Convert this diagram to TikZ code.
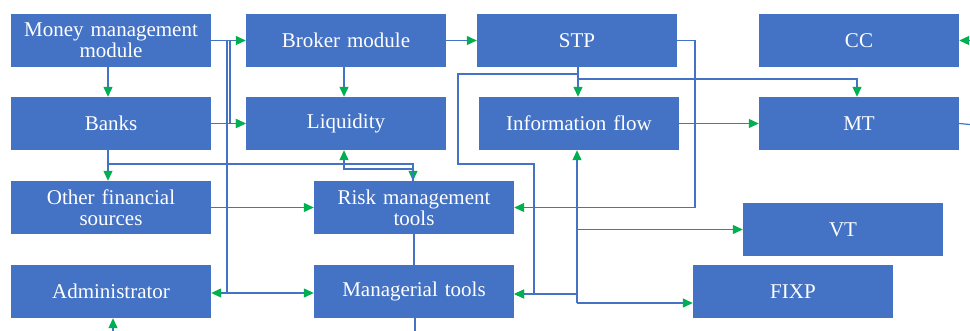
\documentclass[tikz,border=0pt]{standalone}
\usepackage{fontspec}
\setmainfont{Liberation Serif}
\usetikzlibrary{arrows.meta}
\definecolor{boxblue}{HTML}{4472C4}
\definecolor{linkblue}{HTML}{4472C4}
\definecolor{arrgreen}{HTML}{00B050}
\tikzset{
  blk/.style={draw=none, fill=boxblue, text=white, minimum width=200pt, minimum height=53pt,
    inner sep=0pt, align=center, text width=196pt, font=\fontsize{21}{21}\selectfont},
  lnk/.style={draw=linkblue, line width=1.2pt},
  arr/.style={lnk, -{Triangle[length=10pt,width=9pt,color=arrgreen,fill=arrgreen]}},
}
\begin{document}
\begin{tikzpicture}[x=1pt,y=-1pt]
\useasboundingbox (0,0) rectangle (970,331);
% nodes
\node[blk] (mm) at (111,40.5) {Money management\\module};
\node[blk] (banks) at (111,123.5) {Banks};
\node[blk] (ofs) at (111,207.5) {Other financial\\sources};
\node[blk] (admin) at (111,291.5) {Administrator};
\node[blk] (broker) at (346,40.5) {Broker module};
\node[blk] (liq) at (346,123.5) {Liquidity};
\node[blk] (risk) at (414,207.5) {Risk management\\tools};
\node[blk] (manag) at (414,291.5) {Managerial tools};
\node[blk] (stp) at (577,40.5) {STP};
\node[blk] (info) at (579,123.5) {Information flow};
\node[blk] (cc) at (859,40.5) {CC};
\node[blk] (mt) at (859,123.5) {MT};
\node[blk] (vt) at (843,229.5) {VT};
\node[blk] (fixp) at (793,291.5) {FIXP};
% free ends and junctions
\coordinate (mbot) at (415,331);
\coordinate (abot) at (113,331);
\coordinate (mtout) at (970,124.5);
\coordinate (ccin) at (970,40.5);
\coordinate (jadm) at (227,293);
\coordinate (jinfo) at (577,303);
\coordinate (jman) at (577,294);
% connectors
\draw[arr] (mm.east) -- (broker.west);
\draw[arr] ([xshift=-3pt]mm.south) -- ([xshift=-3pt]banks.north);
\draw[arr] (banks.east) -- (liq.west);
\draw[arr] (mm.east) -- (230,40.5) |- (liq.west);
\draw[lnk] (mm.east) -| (jadm);
\draw[arr] (jadm) -- (admin.east |- jadm);
\draw[arr] (jadm) -- (manag.west |- jadm);
\draw[arr] ([xshift=-3pt]banks.south) -- ([xshift=-3pt]ofs.north);
\draw[arr] ([xshift=-3pt]banks.south) -- (108,164) -| ([xshift=-1pt]risk.north);
\draw[arr] ([xshift=-1pt]risk.north) -- (413,169) -| ([xshift=-2pt]liq.south);
\draw[arr] ([xshift=-2pt]broker.south) -- ([xshift=-2pt]liq.north);
\draw[arr] (broker.east) -- (stp.west);
\draw[arr] (ofs.east) -- (risk.west);
\draw[lnk] (risk.south) -- (manag.north);
\draw[lnk] ([xshift=1pt]manag.south) -- (mbot);
\draw[arr] (abot) -- (abot |- admin.south);
\draw[arr] (stp.east) -- (695,40.5) |- (risk.east);
\draw[arr] ([xshift=1pt]stp.south) -- ([xshift=-1pt]info.north);
\draw[arr] ([xshift=1pt]stp.south) -- (578,79) -| ([xshift=-2pt]mt.north);
\draw[arr] ([xshift=1pt]stp.south) -- (578,74) -- (458,74) -- (458,164) -- (534,164) -- (534,294) -- (manag.east |- jman);
\draw[arr] (jinfo) -- ([xshift=-2pt]info.south);
\draw[arr] (jinfo |- vt.west) -- (vt.west);
\draw[arr] (jinfo) -- (fixp.west |- jinfo);
\draw[arr] (jman) -- (manag.east |- jman);
\draw[arr] (info.east) -- (mt.west);
\draw[lnk] (mt.east) -- (mtout);
\draw[arr] (ccin) -- (cc.east);
\end{tikzpicture}
\end{document}
